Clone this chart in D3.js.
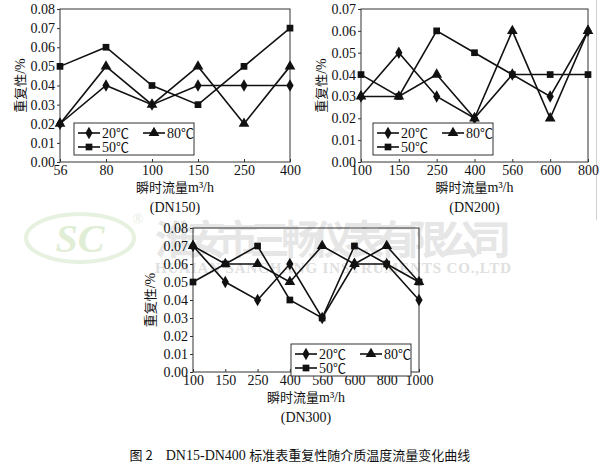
<!DOCTYPE html>
<html>
<head>
<meta charset="utf-8">
<script src="https://cdn.jsdelivr.net/npm/d3@7"></script>
<style>
  body { margin: 0; background: #fff; }
  svg { display: block; }
</style>
</head>
<body>
<svg width="599" height="466"></svg>
<script>
// x categories (instantaneous flow, m3/h)
const flowDN150 = ['56', '80', '100', '150', '250', '400']
const flowDN200 = ['100', '150', '250', '400', '560', '600', '800']
const flowDN300 = ['100', '150', '250', '400', '560', '600', '800', '1000']

// repeatability (%) per medium temperature
const dn150t20 = [0.02, 0.04, 0.03, 0.04, 0.04, 0.04]
const dn150t50 = [0.05, 0.06, 0.04, 0.03, 0.05, 0.07]
const dn150t80 = [0.02, 0.05, 0.03, 0.05, 0.02, 0.05]

const dn200t20 = [0.03, 0.05, 0.03, 0.02, 0.04, 0.03, 0.06]
const dn200t50 = [0.04, 0.03, 0.06, 0.05, 0.04, 0.04, 0.04]
const dn200t80 = [0.03, 0.03, 0.04, 0.02, 0.06, 0.02, 0.06]

const dn300t20 = [0.07, 0.05, 0.04, 0.06, 0.03, 0.06, 0.06, 0.04]
const dn300t50 = [0.05, 0.06, 0.07, 0.04, 0.03, 0.07, 0.06, 0.05]
const dn300t80 = [0.07, 0.06, 0.06, 0.05, 0.07, 0.06, 0.07, 0.05]

const seriesNames = ['20℃', '80℃', '50℃']
const seriesSymbols = [d3.symbolDiamond, d3.symbolTriangle, d3.symbolSquare]

const svg = d3.select('svg')
const cjk = "'Noto Sans CJK SC', sans-serif"
const serif = "'Liberation Serif', 'DejaVu Serif', serif"

// faint watermark behind the charts
const wm = svg.append('g').attr('class', 'watermark')
wm.append('ellipse').attr('cx', 80).attr('cy', 238).attr('rx', 54).attr('ry', 24)
  .attr('fill', 'none').attr('stroke', '#e6f1df').attr('stroke-width', 4)
wm.append('text').attr('x', 80).attr('y', 252).attr('text-anchor', 'middle')
  .style('font', "italic bold 40px 'Liberation Serif', serif").attr('fill', '#dfeed5').text('SC')
wm.append('text').attr('x', 138).attr('y', 224).attr('text-anchor', 'middle')
  .style('font', '14px ' + serif).attr('fill', '#e6eee0').text('®')
wm.append('text').attr('x', 155).attr('y', 254)
  .style('font-family', cjk).style('font-size', '40px').style('font-weight', 'bold')
  .attr('textLength', 356).attr('fill', '#e6e6e6').text('淮安市三畅仪表有限公司')
wm.append('text').attr('x', 155).attr('y', 273)
  .style('font-family', serif).style('font-size', '15px').style('font-weight', 'bold')
  .attr('textLength', 356).attr('fill', '#e0e0e0').text('HUAIAN SANCHANG INSTRUMENTS CO.,LTD')

svg.append('line').attr('x1', 596.5).attr('x2', 596.5).attr('y1', 0).attr('y2', 220)
  .attr('stroke', '#d0d0d0')

function drawPanel (opt) {
  const x = d3.scalePoint().domain(opt.cats).range([opt.left, opt.right])
  const y = d3.scaleLinear().domain([0, opt.yMax]).range([opt.bottom, opt.top])
  const g = svg.append('g')

  g.append('rect')
    .attr('x', opt.left).attr('y', opt.top)
    .attr('width', opt.right - opt.left).attr('height', opt.bottom - opt.top)
    .attr('fill', 'none').attr('stroke', '#333').attr('stroke-width', 1)

  const yTicks = d3.range(0, opt.yMax + 0.0001, 0.01)
  g.append('g')
    .attr('transform', 'translate(' + opt.left + ',0)')
    .call(d3.axisLeft(y).tickValues(yTicks).tickFormat(d3.format('.2f')).tickSize(3).tickPadding(2))
    .call(a => a.select('.domain').remove())
    .call(a => a.selectAll('.tick line').attr('stroke', '#333'))
    .call(a => a.selectAll('.tick text').style('font-family', serif).style('font-size', '14px').attr('fill', '#111'))

  g.append('g')
    .attr('transform', 'translate(0,' + opt.bottom + ')')
    .call(d3.axisBottom(x).tickSize(-3).tickPadding(3))
    .call(a => a.select('.domain').remove())
    .call(a => a.selectAll('.tick line').attr('stroke', '#333'))
    .call(a => a.selectAll('.tick text').style('font-family', serif).style('font-size', '14px').attr('fill', '#111'))

  const line = d3.line().x((d, i) => x(opt.cats[i])).y(d => y(d))
  opt.series.forEach((vals, k) => {
    g.append('path').attr('d', line(vals))
      .attr('fill', 'none').attr('stroke', '#111').attr('stroke-width', 1.6)
  })
  opt.series.forEach((vals, k) => {
    g.selectAll(null).data(vals).enter().append('path')
      .attr('transform', (d, i) => 'translate(' + x(opt.cats[i]) + ',' + y(d) + ')')
      .attr('d', d3.symbol().type(seriesSymbols[k]).size(k === 1 ? 50 : 45))
      .attr('fill', '#111')
  })

  // axis titles
  const midY = (opt.top + opt.bottom) / 2
  const yt = g.append('text')
    .attr('transform', 'translate(' + opt.yLabelX + ',' + midY + ') rotate(-90)')
    .attr('text-anchor', 'middle')
    .style('font-family', cjk).style('font-size', '13px').attr('fill', '#111')
  yt.append('tspan').text('重复性')
  yt.append('tspan').style('font-family', serif).style('font-size', '14px').text('/%')
  const midX = (opt.left + opt.right) / 2
  const xt = g.append('text')
    .attr('x', midX).attr('y', opt.bottom + 30)
    .attr('text-anchor', 'middle')
    .style('font-family', cjk).style('font-size', '13px').attr('fill', '#111')
  xt.append('tspan').text('瞬时流量')
  xt.append('tspan').style('font-family', serif).style('font-size', '14px').text('m³/h')
  g.append('text')
    .attr('x', midX).attr('y', opt.bottom + 50)
    .attr('text-anchor', 'middle')
    .style('font-family', serif).style('font-size', '14px').attr('fill', '#111')
    .text(opt.name)

  // legend
  const lg = g.append('g').attr('transform', 'translate(' + opt.legX + ',' + opt.legY + ')')
  lg.append('rect').attr('width', 120).attr('height', 32)
    .attr('fill', '#fff').attr('stroke', '#333').attr('stroke-width', 1)
  const spots = [[4, 10], [69, 10], [4, 24]]
  seriesNames.forEach((name, k) => {
    const [sx, sy] = spots[k]
    lg.append('line').attr('x1', sx).attr('x2', sx + 22).attr('y1', sy).attr('y2', sy)
      .attr('stroke', '#111').attr('stroke-width', 1.6)
    lg.append('path').attr('transform', 'translate(' + (sx + 11) + ',' + sy + ')')
      .attr('d', d3.symbol().type(seriesSymbols[k]).size(k === 1 ? 50 : 45))
      .attr('fill', '#111')
    const t = lg.append('text').attr('x', sx + 24).attr('y', sy + 5)
      .style('font-size', '14px').attr('fill', '#111')
    t.append('tspan').style('font-family', serif).text(name.slice(0, 2))
    t.append('tspan').style('font-family', cjk).style('font-size', '13px').text(name.slice(2))
  })
}

drawPanel({
  cats: flowDN150, series: [dn150t20, dn150t80, dn150t50], yMax: 0.08,
  left: 60, right: 290, top: 9, bottom: 162, yLabelX: 25,
  legX: 74, legY: 123, name: '(DN150)'
})
drawPanel({
  cats: flowDN200, series: [dn200t20, dn200t80, dn200t50], yMax: 0.07,
  left: 361, right: 588, top: 9, bottom: 162, yLabelX: 326,
  legX: 373, legY: 123, name: '(DN200)'
})
drawPanel({
  cats: flowDN300, series: [dn300t20, dn300t80, dn300t50], yMax: 0.08,
  left: 193, right: 419, top: 228, bottom: 372, yLabelX: 155,
  legX: 291, legY: 344, name: '(DN300)'
})

const cap = svg.append('text')
  .attr('x', 300).attr('y', 460).attr('text-anchor', 'middle')
  .style('font-size', '13px').attr('fill', '#111')
cap.append('tspan').style('font-family', cjk).text('图 2　')
cap.append('tspan').style('font-family', serif).style('font-size', '14px').text('DN15-DN400 ')
cap.append('tspan').style('font-family', cjk).text('标准表重复性随介质温度流量变化曲线')
</script>
</body>
</html>
